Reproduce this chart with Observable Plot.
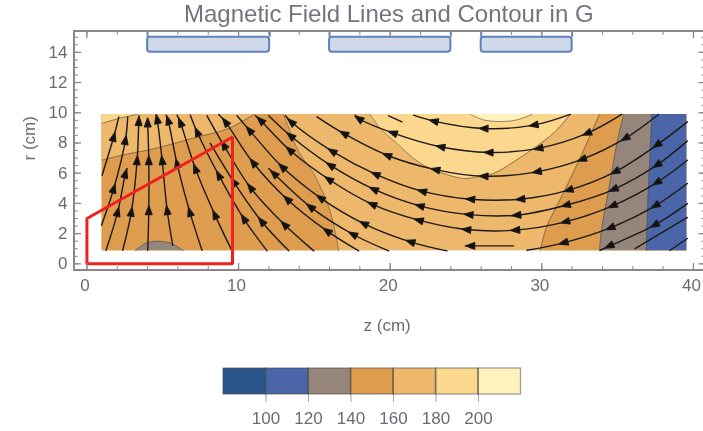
<!DOCTYPE html>
<html>
<head>
<meta charset="utf-8">
<script src="https://cdn.jsdelivr.net/npm/d3@7"></script>
<script src="https://cdn.jsdelivr.net/npm/@observablehq/plot@0.6"></script>
<style>
  html, body { margin: 0; padding: 0; background: #fff; overflow: hidden; width: 703px; height: 431px; }
  #title { height: 28px; font: 24px "Liberation Sans", sans-serif; color: #74747f; position: relative; }
  #title span { position: absolute; left: 184px; top: 0; white-space: nowrap; }
  svg { display: block; }
  body { filter: blur(0.6px); }
</style>
</head>
<body>
<div id="title"><span>Magnetic Field Lines and Contour in G</span></div>
<div id="chart"></div>
<script>
// Field extent (cm)
const fieldLeft = 1.0, fieldRight = 39.56, fieldBottom = 0.86, fieldTop = 9.89;

// Contour levels and colours
const bandEdges = [80, 100, 120, 140, 160, 180, 200, 220];
const bandColors = ["#28558a", "#4a66a8", "#96857a", "#de9c4f", "#edb76c", "#fcd88e", "#fff2bd"];
const bandTicks = [100, 120, 140, 160, 180, 200];

// Contour boundaries [z, r]
const contourLeft = [[16.6,0.86],[16.05,3.44],[14.95,5.98],[13.97,7.41],[12.98,9.89]];
const contourUpperLeft = [[1.0,6.86],[2.32,7.19],[4.52,7.64],[6.93,8.30],[9.35,8.96],[11.0,9.89]];
const contourCorner = [[1.0,9.29],[2.1,9.62],[3.31,9.89]];
const contourBump = [[3.2,0.86],[3.86,1.34],[4.63,1.5],[5.61,1.34],[6.38,0.86]];
const contourPale = [[18.69,9.89],[19.35,8.96],[20.45,7.97],[21.55,6.97],[22.65,6.31],[24.84,5.65],[25.72,5.76],[26.82,5.98],[28.14,6.75],[29.46,7.64],[30.88,8.74],[31.87,9.89]];
const contourCream = [[25.3,9.89],[26.15,9.53],[27.26,9.42],[28.35,9.53],[29.35,9.89]];
const contourRightOrange = [[29.9,0.86],[30.3,2.4],[31.4,4.64],[32.75,7.5],[33.8,9.89]];
const contourTaupe = [[33.8,0.86],[33.96,2.4],[34.4,4.84],[34.95,7.95],[35.4,9.89]];
const contourBlue = [[36.9,0.86],[37.0,4.2],[37.15,7.5],[37.26,9.89]];

// Field lines [z, r], in flow order; each interior vertex carries an arrowhead
const fan1 = [[1.0,5.87],[1.77,8.41],[2.10,9.73]];
const fan2 = [[0.96,2.56],[1.77,4.99],[2.54,8.19],[2.69,9.73]];
const fan3 = [[1.26,0.90],[2.03,3.44],[2.54,5.98],[2.65,6.31]];
const fan4 = [[2.36,0.90],[2.93,3.44],[3.31,6.86],[3.42,9.45],[3.44,9.8]];
const fan5 = [[4.01,0.90],[4.08,3.55],[4.08,6.86],[4.01,9.36],[4.01,9.51]];
const fan6 = [[5.66,1.23],[5.29,3.55],[4.96,6.86],[4.63,9.58],[4.56,9.84]];
const fan7 = [[7.59,0.90],[6.78,3.44],[5.94,6.64],[5.35,9.51],[5.22,9.84]];
const fan8 = [[9.57,0.86],[8.43,3.26],[7.15,6.31],[6.16,9.36],[5.94,9.84]];
const fan9 = [[11.88,0.86],[10.34,3.0],[8.69,5.87],[7.26,8.74],[6.82,9.84]];
const fan10 = [[13.31,0.86],[11.51,2.82],[9.68,5.43],[8.14,7.97]];
const fan11 = [[14.96,0.86],[13.02,2.6],[10.78,5.05],[9.02,7.86],[7.92,9.8]];
const arc1 = [[17.92,0.86],[15.83,2.18],[13.20,4.28],[10.95,6.71],[9.13,9.40],[8.69,9.89]];
const arc2 = [[19.90,0.86],[17.53,1.96],[14.73,3.77],[12.32,5.98],[11.99,6.31]];
const arc3 = [[23.75,0.86],[21.33,1.46],[18.25,2.67],[15.39,4.37],[12.87,6.42],[10.71,8.85],[9.90,9.8]];
const arc4 = [[39.6,6.86],[37.58,5.38],[34.66,3.84],[31.54,2.78],[28.25,2.23],[25.02,2.27],[21.88,2.89],[18.80,3.95],[15.94,5.60],[13.37,7.53],[11.44,9.51],[11.11,9.8]];
const arc5 = [[39.6,8.14],[37.58,6.53],[34.72,4.92],[31.58,3.88],[28.32,3.22],[25.17,3.26],[21.94,3.84],[18.91,4.94],[16.05,6.53],[13.42,8.48],[11.99,9.8]];
const arc6 = [[39.6,9.40],[37.58,7.86],[34.83,6.09],[31.76,4.88],[28.58,4.28],[25.28,4.28],[22.10,4.81],[19.02,5.94],[16.16,7.46],[13.46,9.40],[13.09,9.8]];
const arc7 = [[37.69,9.89],[35.49,8.30],[32.64,6.91],[29.67,6.09],[26.16,5.80],[22.98,6.24],[19.79,7.19],[16.93,8.63],[15.17,9.73]];
const arc8 = [[35.27,9.89],[32.97,8.63],[29.78,7.64],[26.49,7.37],[23.31,7.75],[20.16,8.67],[17.92,9.62],[17.70,9.84]];
const arc9 = [[31.87,9.89],[29.46,9.18],[26.16,8.96],[22.87,9.45],[21.55,9.84]];
const arc10 = [[20.78,9.40],[19.90,9.80]];
const arc11 = [[28.14,1.19],[25.28,1.19],[24.95,1.19]];
const arc12 = [[39.6,5.32],[37.47,3.84],[34.51,2.38],[31.43,1.39],[29.02,0.90]];
const arc13 = [[39.6,3.99],[37.43,2.56],[34.44,1.17],[33.85,0.90]];
const arc14 = [[39.6,3.07],[36.15,1.01]];
const arc15 = [[39.6,1.68],[38.46,0.90]];
const fieldLines = [fan1,fan2,fan3,fan4,fan5,fan6,fan7,fan8,fan9,fan10,fan11,arc1,arc2,arc3,arc4,arc5,arc6,arc7,arc8,arc9,arc10,arc11,arc12,arc13,arc14,arc15];

// Red outline and coil blocks
const redOutline = [[0,0],[0,3],[9.6,8.4],[9.6,0],[0,0]];
const coilStarts = [4, 16, 26];
const coilEnds = [12.05, 24, 32];
const coilBottom = 14, coilTop = 15.0;

// Ticks
const xMajor = [0,10,20,30,40];
const xMinor = d3.range(0, 41, 2);
const yMajor = [0,2,4,6,8,10,12,14];
const yMinor = d3.range(0, 15.01, 0.5);

const px = d => d[0], pr = d => d[1];
const axisColor = "#888888", textColor = "#6b6b76";
const font = '"Liberation Sans", sans-serif';
const contourStroke = "rgba(95,80,60,0.62)";
const xLo = -0.82, xHi = 40.82, yLo = -0.44, yHi = 15.38;

const arrowHead = () => d3.create("svg:marker")
  .attr("viewBox", "-6 -5 12 10").attr("markerWidth", 12).attr("markerHeight", 10)
  .attr("markerUnits", "userSpaceOnUse").attr("orient", "auto")
  .call(m => m.append("path").attr("d", "M-4.3,-3.2L4.3,0L-4.3,3.2Z").attr("fill", "#111"))
  .node();

const regionRight = (pts, fill) => Plot.areaX(pts, {y: pr, x1: px, x2: () => fieldRight, fill, curve: "catmull-rom"});
const regionAbove = (pts, fill) => Plot.areaY(pts, {x: px, y1: pr, y2: () => fieldTop, fill, curve: "catmull-rom"});
const contourLine = pts => Plot.line(pts, {x: px, y: pr, stroke: contourStroke, strokeWidth: 1, curve: "catmull-rom"});

const [cBlue, cTaupe, cOrange, cLight, cPale, cCream] = bandColors.slice(1);

const main = Plot.plot({
  width: 703, height: 317,
  marginTop: 0, marginBottom: 0, marginLeft: 0, marginRight: 0,
  x: {domain: [xLo, xHi], range: [74, 705.4]},
  y: {domain: [yLo, yHi], range: [242, 3]},
  marks: [
    Plot.rect([0], {x1: () => fieldLeft, x2: () => fieldRight, y1: () => fieldBottom, y2: () => fieldTop, fill: cLight}),
    Plot.areaX(contourLeft, {y: pr, x1: () => fieldLeft, x2: px, fill: cOrange, curve: "catmull-rom"}),
    regionAbove(contourUpperLeft, cLight),
    regionAbove(contourCorner, cPale),
    Plot.areaY(contourBump, {x: px, y1: () => fieldBottom, y2: pr, fill: cTaupe, curve: "catmull-rom"}),
    regionAbove(contourPale, cPale),
    regionAbove(contourCream, cCream),
    regionRight(contourRightOrange, cOrange),
    regionRight(contourTaupe, cTaupe),
    regionRight(contourBlue, cBlue),
    ...[contourLeft, contourUpperLeft, contourCorner, contourBump, contourPale, contourCream, contourRightOrange, contourTaupe, contourBlue].map(contourLine),
    ...fieldLines.map(s => Plot.line(s, {x: px, y: pr, stroke: "#1c1a18", strokeWidth: 1.4, curve: "catmull-rom", markerMid: arrowHead})),
    Plot.line(redOutline, {x: px, y: pr, stroke: "#f0201e", strokeWidth: 3, strokeLinejoin: "miter"}),
    Plot.ruleX(coilStarts.concat(coilEnds), {x: d => d, y1: () => coilTop, y2: () => yHi, stroke: "#5f82b8", strokeWidth: 2}),
    Plot.rect(coilStarts, {x1: (d, i) => coilStarts[i], x2: (d, i) => coilEnds[i], y1: () => coilBottom, y2: () => coilTop, fill: "#cfd9ea", stroke: "#5f82b8", strokeWidth: 2, rx: 3}),
    // frame and inward ticks
    Plot.rect([0], {x1: () => xLo, x2: () => xHi, y1: () => yLo, y2: () => yHi, fill: "none", stroke: axisColor, strokeWidth: 2}),
    Plot.ruleX(xMinor, {x: d => d, y1: () => yLo, y2: () => yLo + 0.26, stroke: axisColor}),
    Plot.ruleX(xMinor, {x: d => d, y1: () => yHi, y2: () => yHi - 0.26, stroke: axisColor}),
    Plot.ruleX(xMajor, {x: d => d, y1: () => yLo, y2: () => yLo + 0.46, stroke: axisColor, strokeWidth: 1.3}),
    Plot.ruleX(xMajor, {x: d => d, y1: () => yHi, y2: () => yHi - 0.46, stroke: axisColor, strokeWidth: 1.3}),
    Plot.ruleY(yMinor, {y: d => d, x1: () => xLo, x2: () => xLo + 0.26, stroke: axisColor}),
    Plot.ruleY(yMinor, {y: d => d, x1: () => xHi, x2: () => xHi - 0.26, stroke: axisColor}),
    Plot.ruleY(yMajor, {y: d => d, x1: () => xLo, x2: () => xLo + 0.46, stroke: axisColor, strokeWidth: 1.3}),
    Plot.ruleY(yMajor, {y: d => d, x1: () => xHi, x2: () => xHi - 0.46, stroke: axisColor, strokeWidth: 1.3}),
    Plot.axisX(xMajor, {anchor: "bottom", tickSize: 0, tickPadding: 8, label: null, fontSize: 17, fontFamily: font, color: textColor, y: yLo, dx: -2}),
    Plot.axisY(yMajor, {anchor: "left", tickSize: 0, tickPadding: 7, label: null, fontSize: 17, fontFamily: font, color: textColor, x: xLo}),
    Plot.text(["z (cm)"], {frameAnchor: "bottom-left", dx: 363, dy: -15, fontSize: 17, fontFamily: font, fill: textColor}),
    Plot.text(["r (cm)"], {frameAnchor: "top-left", dx: 22, dy: 132, rotate: -90, fontSize: 17, fontFamily: font, fill: textColor})
  ]
});

const bands = bandColors.map((color, i) => ({lo: bandEdges[i], hi: bandEdges[i + 1], color}));
const legend = Plot.plot({
  width: 703, height: 86,
  marginTop: 0, marginBottom: 0, marginLeft: 0, marginRight: 0,
  x: {domain: [80, 220], range: [223, 520.5]},
  y: {domain: [0, 1], range: [49, 23], axis: null},
  color: {type: "identity"},
  marks: [
    Plot.rect(bands, {x1: "lo", x2: "hi", y1: () => 0, y2: () => 1, fill: "color", stroke: "rgba(70,70,70,0.5)", strokeWidth: 1.3}),
    Plot.ruleX(bandTicks, {x: d => d, y1: () => 1, y2: () => -0.3, stroke: "rgba(70,70,70,0.5)"}),
    Plot.axisX(bandTicks, {anchor: "bottom", y: 0, tickSize: 0, tickPadding: 17, label: null, fontSize: 17, fontFamily: font, color: textColor})
  ]
});

const host = document.getElementById("chart");
host.appendChild(main);
host.appendChild(legend);
</script>
</body>
</html>
